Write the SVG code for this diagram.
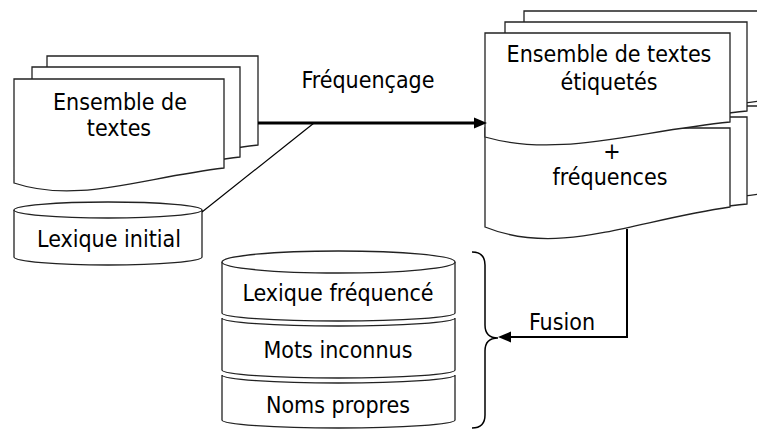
<svg xmlns="http://www.w3.org/2000/svg" width="757" height="430" viewBox="0 0 757 430">
<style>
.shape{fill:#fff;stroke:#222;stroke-width:1.3}
.t{font-family:"DejaVu Sans Condensed","DejaVu Sans",sans-serif;font-stretch:condensed;font-size:23px;text-anchor:middle;fill:#000}
.conn{fill:none;stroke:#000}
</style>
<rect width="757" height="430" fill="#fff"/>
<g id="ensemble-textes">
<path class="shape" d="M47,56 H258 V145 C173.6,155 110.3,181 47,160 Z"/>
<path class="shape" d="M32,67 H240 V157 C156.8,167 94.4,193 32,172 Z"/>
<path class="shape" d="M14,79 H224 V168 C140,178 77,204 14,183 Z"/>
<text class="t" x="120" y="110">Ensemble de</text>
<text class="t" x="119" y="136">textes</text>
</g>
<g id="lexique-initial">
<path class="shape" d="M14,210 V257 A94,8 0 0 0 202,257 V210"/>
<ellipse class="shape" cx="108" cy="210" rx="94" ry="8"/>
<text class="t" x="109" y="247">Lexique initial</text>
</g>
<g id="frequences">
<path class="shape" d="M524,106 H770 V193 C671.6,203 597.8,229 524,208 Z"/>
<path class="shape" d="M505,117 H747 V204 C650.2,214 577.6,240 505,219 Z"/>
<path class="shape" d="M485,128 H730 V207 C632,221 558.5,257 485,227 Z"/>
<text class="t" x="612" y="159">+</text>
<text class="t" x="610" y="185">fréquences</text>
</g>
<g id="textes-etiquetes">
<path class="shape" d="M524,11 H770 V100 C671.6,110 597.8,136 524,115 Z"/>
<path class="shape" d="M505,22 H747 V111 C650.2,121 577.6,147 505,126 Z"/>
<path class="shape" d="M485,33 H730 V122 C632,132 558.5,158 485,137 Z"/>
<text class="t" x="609" y="62">Ensemble de textes</text>
<text class="t" x="609" y="90">étiquetés</text>
</g>
<g id="lexique-frequence">
<path class="shape" d="M222,262 V313 A116.5,8 0 0 0 455,313 V262"/>
<ellipse class="shape" cx="338.5" cy="262" rx="116.5" ry="11"/>
<text class="t" x="338" y="301">Lexique fréquencé</text>
</g>
<g id="mots-inconnus">
<path class="shape" d="M222,318 A116.5,8 0 0 0 455,318 V370 A116.5,8 0 0 1 222,370 Z"/>
<text class="t" x="338" y="358">Mots inconnus</text>
</g>
<g id="noms-propres">
<path class="shape" d="M222,375 A116.5,8 0 0 0 455,375 V420 A116.5,8 0 0 1 222,420 Z"/>
<text class="t" x="338" y="413">Noms propres</text>
</g>
<g id="accolade">
<path class="conn" stroke-width="1.5" d="M472,252 Q485,252 485,265 V325 Q485,338 498,338 Q485,338 485,351 V415 Q485,428 472,428"/>
</g>
<g id="connectors">
<path class="conn" stroke-width="1.2" d="M202,212 L314,123"/>
<path class="conn" stroke-width="3" d="M258,123 H476"/>
<path d="M474,117.5 L487,123 L474,128.5 Z" fill="#000"/>
<text class="t" x="368" y="88">Fréquençage</text>
<path class="conn" stroke-width="2" d="M627,229 V337 H510"/>
<path d="M511,331.5 L498,337 L511,342.5 Z" fill="#000"/>
<text class="t" x="562" y="330">Fusion</text>
</g>
</svg>
